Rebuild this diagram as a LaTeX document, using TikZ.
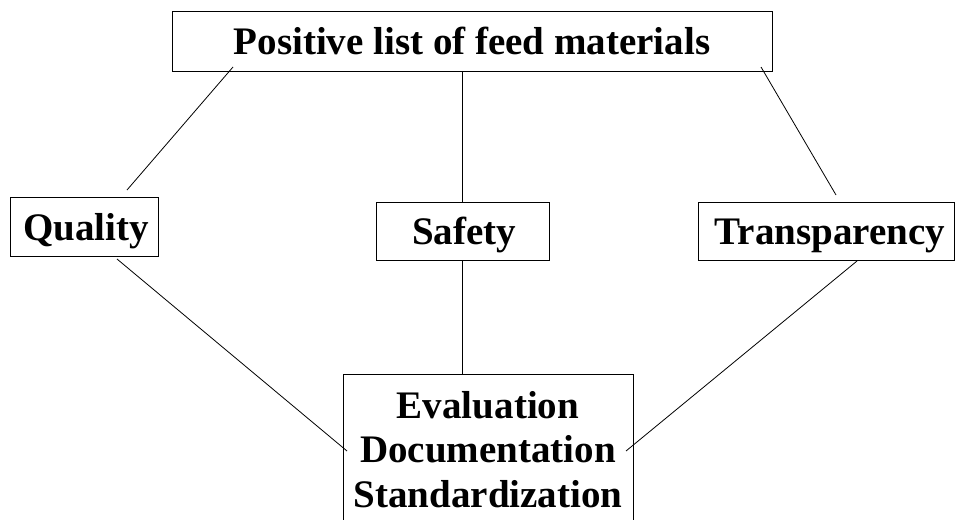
\documentclass[tikz,border=0pt]{standalone}
\usepackage{fontspec}
\setmainfont{Liberation Serif}
\begin{document}
\begin{tikzpicture}[x=1pt,y=-1pt,
  box/.style={draw=black,line width=1pt,inner sep=0pt,outer sep=0pt},
  lbl/.style={inner sep=0pt,anchor=base,font=\fontsize{39}{44}\selectfont\bfseries},
  conn/.style={draw=black,line width=0.8pt}]
\useasboundingbox (0,0) rectangle (957,519);
\clip (0,0) rectangle (957,519);
\node[box,minimum width=600pt,minimum height=59pt] (top) at (472,41.5) {};
\node[lbl] (toptxt) at (472,55) {Positive list of feed materials};
\node[box,minimum width=148pt,minimum height=59pt] (quality) at (84,226.5) {};
\node[lbl] (qualtxt) at (86,240) {Quality};
\node[box,minimum width=173pt,minimum height=58pt] (safety) at (462.5,231) {};
\node[lbl] (saftxt) at (464,244) {Safety};
\node[box,minimum width=256pt,minimum height=58pt] (transp) at (826,231) {};
\node[lbl] (trtxt) at (830,244) {Transparency};
\node[box,minimum width=290pt,minimum height=170pt] (bottom) at (488,459) {};
\node[lbl] (ev) at (488,418) {Evaluation};
\node[lbl] (doc) at (488,462) {Documentation};
\node[lbl] (std) at (488,507) {Standardization};
\draw[conn] ([shift={(61,-4)}]top.south west) -- ([shift={(117,-7)}]quality.north west);
\draw[conn] (safety.north |- top.south) -- (safety.north);
\draw[conn] ([shift={(-11,-4)}]top.south east) -- ([shift={(138,-7)}]transp.north west);
\draw[conn] ([shift={(107,3)}]quality.south west) -- ([shift={(4,77)}]bottom.north west);
\draw[conn] (safety.south) -- (safety.south |- bottom.north);
\draw[conn] ([shift={(159,1)}]transp.south west) -- ([shift={(-7,77)}]bottom.north east);
\end{tikzpicture}
\end{document}
